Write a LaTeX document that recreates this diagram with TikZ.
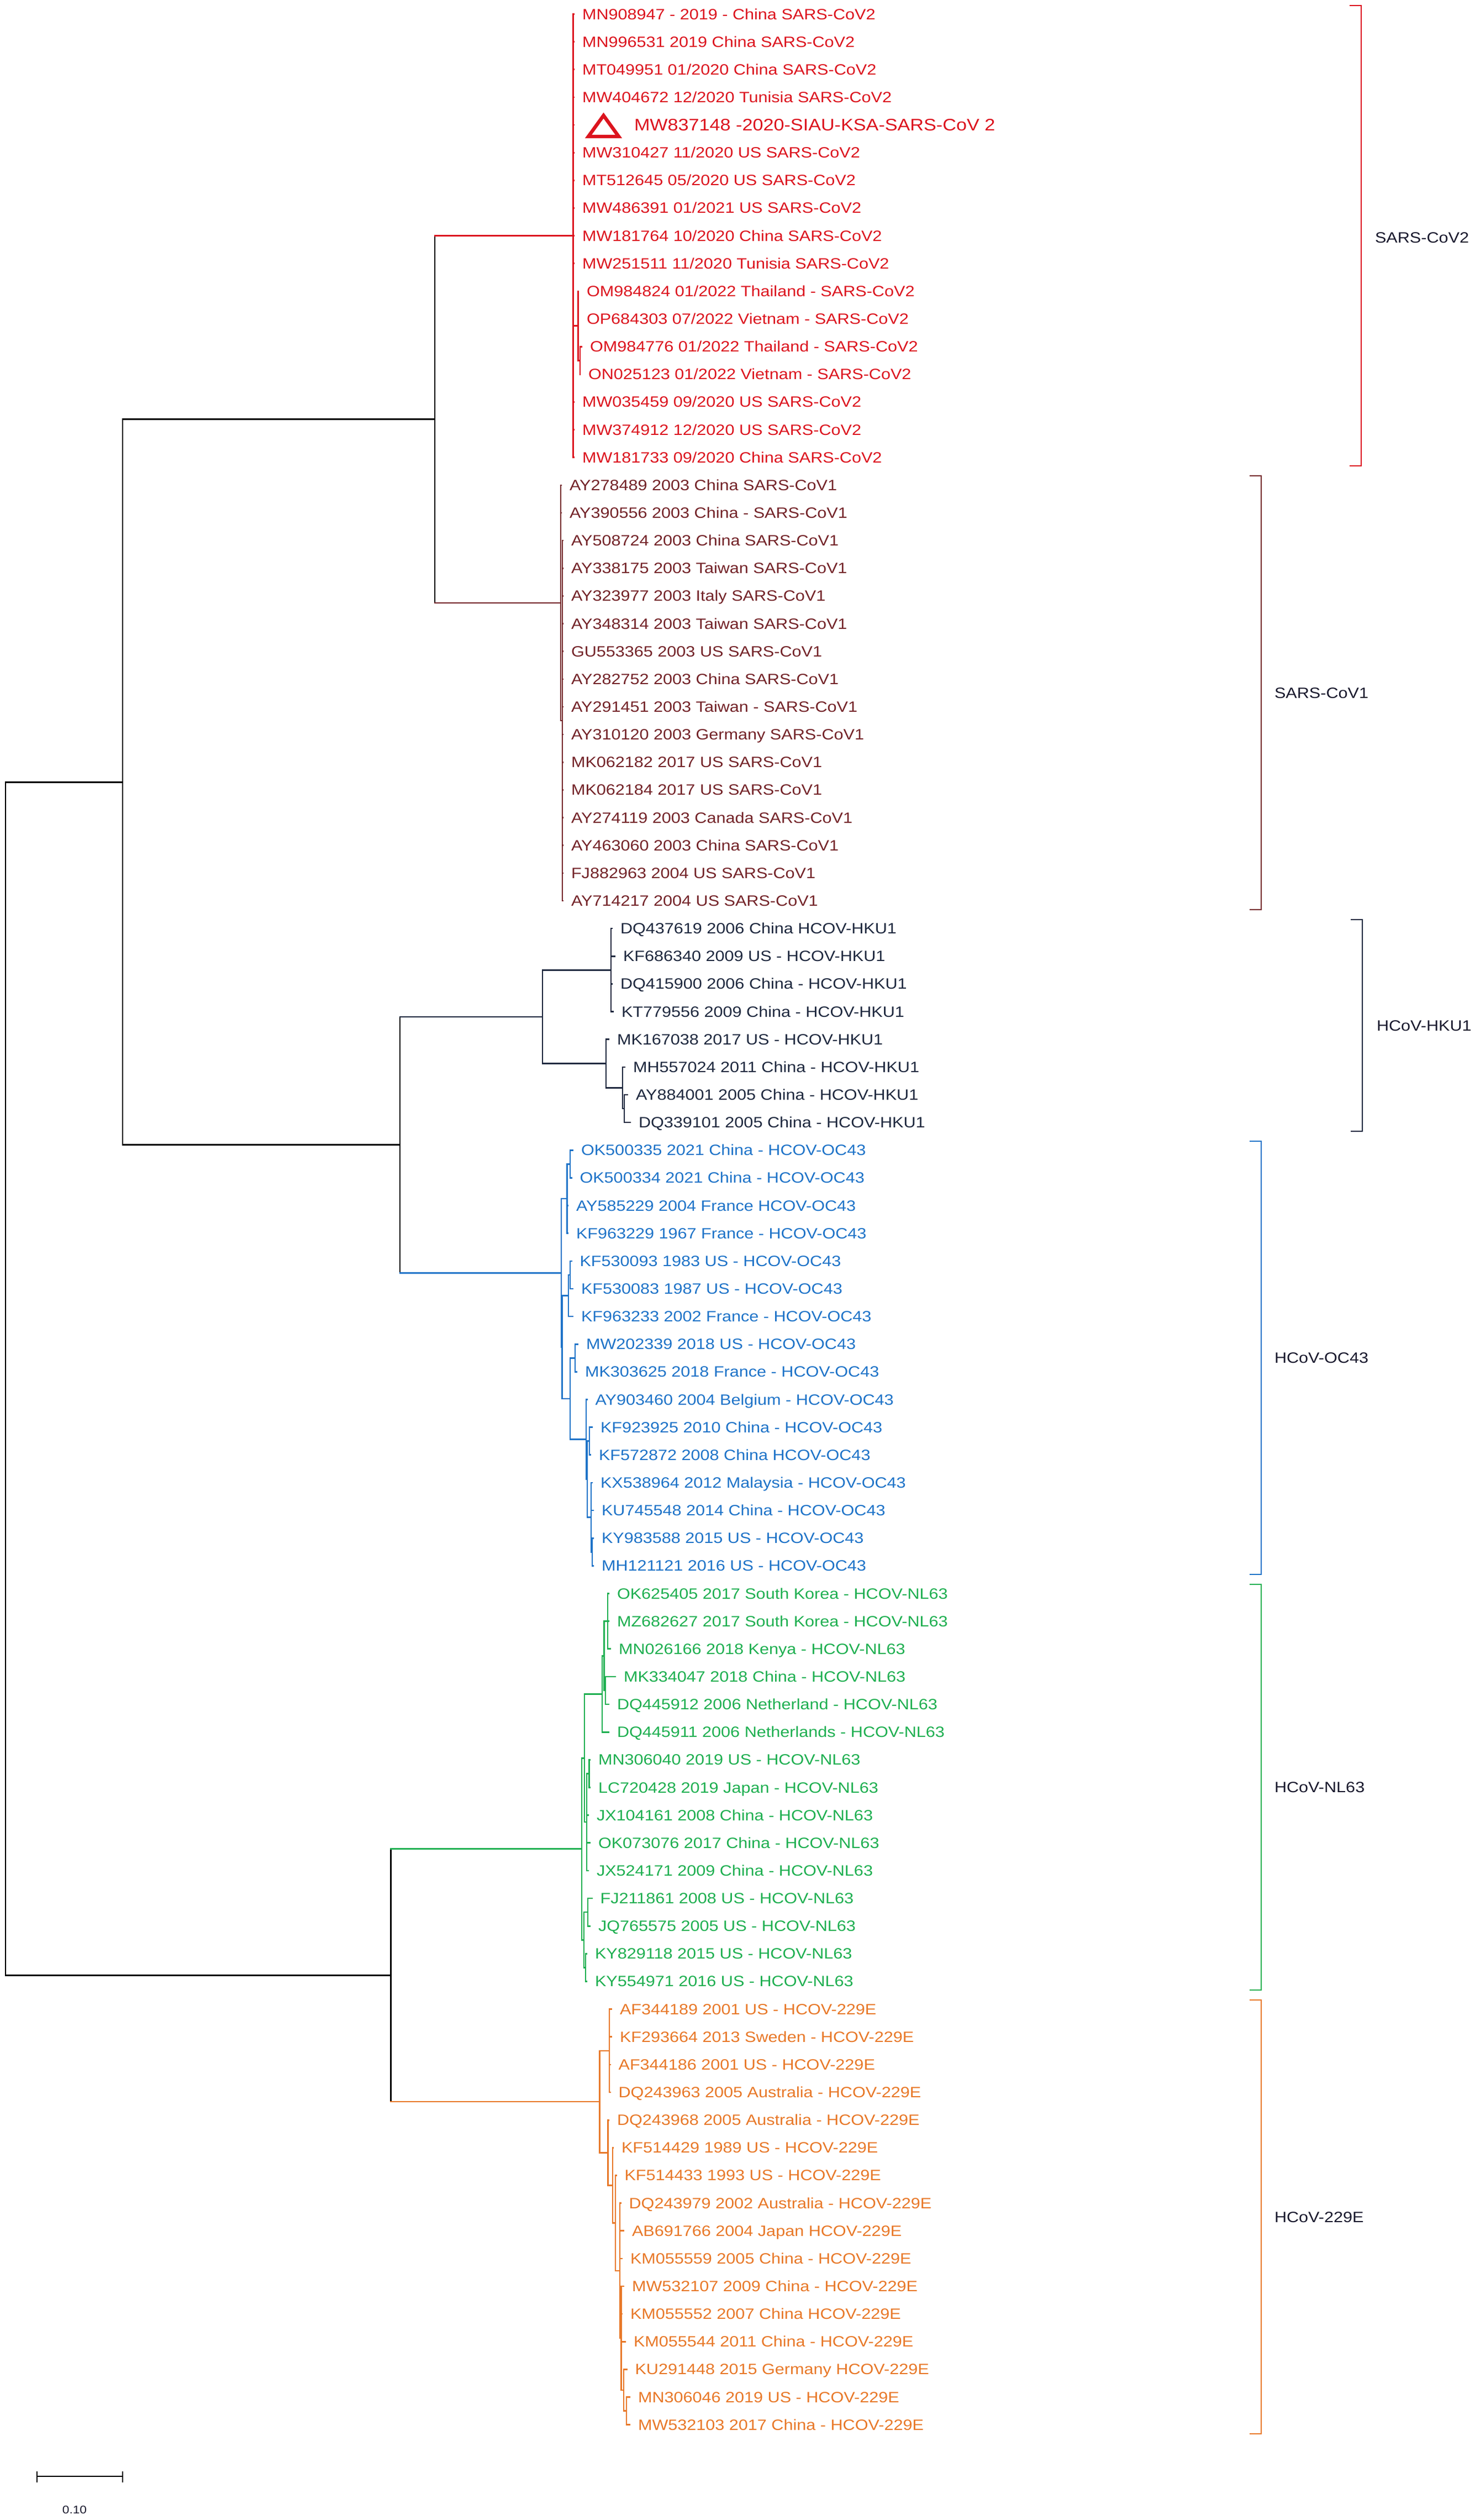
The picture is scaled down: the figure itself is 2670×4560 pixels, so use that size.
\documentclass[tikz,border=0pt]{standalone}
\usepackage{fontspec}
\newfontfamily\lblfont{Liberation Sans}[FakeStretch=1.13]
\definecolor{cTwo}{RGB}{220,20,30}
\definecolor{cOne}{RGB}{115,35,40}
\definecolor{cHk}{RGB}{30,40,62}
\definecolor{cOc}{RGB}{30,115,200}
\definecolor{cNl}{RGB}{30,175,80}
\definecolor{cEe}{RGB}{232,120,40}
\definecolor{cLab}{RGB}{25,25,45}
\newcommand\lfn[4]{%
  \pgfmathsetmacro\yc{25.5+50.14*(#1-1)}%
  \coordinate (t#1) at ({#2-15},\yc);%
  \node[lbl,text=#3,anchor=base west] (L#1) at (#2,{\yc+9.5}) {#4};}
\newcommand\tvert[4]{\draw[tree,#1] (#2 |- #3) -- (#2 |- #4);}
\newcommand\tedge[3]{\draw[tree,#1] (#2 |- #3) -- (#3);}
\begin{document}
\begin{tikzpicture}[x=0.01cm,y=-0.01cm,
  tree/.style={line width=0.75pt,line cap=rect},
  brk/.style={line width=0.8pt},
  lbl/.style={font=\lblfont\fontsize{7.7}{9}\selectfont,inner sep=0pt,outer sep=0pt},
  grp/.style={font=\lblfont\fontsize{7.7}{9}\selectfont,inner sep=0pt,outer sep=0pt,text=cLab,anchor=west}]
\fill[white] (0,0) rectangle (2670,4560);
\useasboundingbox (0,0) rectangle (2670,4560);

% ---------- leaves: SARS-CoV2 ----------
\lfn{1}{1054}{cTwo}{MN908947 - 2019 - China SARS-CoV2}
\lfn{2}{1054}{cTwo}{MN996531 2019 China SARS-CoV2}
\lfn{3}{1054}{cTwo}{MT049951 01/2020 China SARS-CoV2}
\lfn{4}{1054}{cTwo}{MW404672 12/2020 Tunisia SARS-CoV2}
\coordinate (t5) at (1039,226.06);
\node[lbl,text=cTwo,anchor=base west,font=\lblfont\fontsize{8.6}{10}\selectfont] (L5) at (1148,236.6) {MW837148 -2020-SIAU-KSA-SARS-CoV 2};
\draw[cTwo,line width=1.8pt,line join=miter] (1065,247) -- (1120,247) -- (1092.5,209) -- cycle;
\lfn{6}{1054}{cTwo}{MW310427 11/2020 US SARS-CoV2}
\lfn{7}{1054}{cTwo}{MT512645 05/2020 US SARS-CoV2}
\lfn{8}{1054}{cTwo}{MW486391 01/2021 US SARS-CoV2}
\lfn{9}{1054}{cTwo}{MW181764 10/2020 China SARS-CoV2}
\lfn{10}{1054}{cTwo}{MW251511 11/2020 Tunisia SARS-CoV2}
\lfn{11}{1062}{cTwo}{OM984824 01/2022 Thailand - SARS-CoV2}
\lfn{12}{1062}{cTwo}{OP684303 07/2022 Vietnam - SARS-CoV2}
\lfn{13}{1068}{cTwo}{OM984776 01/2022 Thailand - SARS-CoV2}
\lfn{14}{1065}{cTwo}{ON025123 01/2022 Vietnam - SARS-CoV2}
\lfn{15}{1054}{cTwo}{MW035459 09/2020 US SARS-CoV2}
\lfn{16}{1054}{cTwo}{MW374912 12/2020 US SARS-CoV2}
\lfn{17}{1054}{cTwo}{MW181733 09/2020 China SARS-CoV2}
% ---------- SARS-CoV1 ----------
\lfn{18}{1031}{cOne}{AY278489 2003 China SARS-CoV1}
\lfn{19}{1031}{cOne}{AY390556 2003 China - SARS-CoV1}
\lfn{20}{1034}{cOne}{AY508724 2003 China SARS-CoV1}
\lfn{21}{1034}{cOne}{AY338175 2003 Taiwan SARS-CoV1}
\lfn{22}{1034}{cOne}{AY323977 2003 Italy SARS-CoV1}
\lfn{23}{1034}{cOne}{AY348314 2003 Taiwan SARS-CoV1}
\lfn{24}{1034}{cOne}{GU553365 2003 US SARS-CoV1}
\lfn{25}{1034}{cOne}{AY282752 2003 China SARS-CoV1}
\lfn{26}{1034}{cOne}{AY291451 2003 Taiwan - SARS-CoV1}
\lfn{27}{1034}{cOne}{AY310120 2003 Germany SARS-CoV1}
\lfn{28}{1034}{cOne}{MK062182 2017 US SARS-CoV1}
\lfn{29}{1034}{cOne}{MK062184 2017 US SARS-CoV1}
\lfn{30}{1034}{cOne}{AY274119 2003 Canada SARS-CoV1}
\lfn{31}{1034}{cOne}{AY463060 2003 China SARS-CoV1}
\lfn{32}{1034}{cOne}{FJ882963 2004 US SARS-CoV1}
\lfn{33}{1034}{cOne}{AY714217 2004 US SARS-CoV1}
% ---------- HKU1 ----------
\lfn{34}{1123}{cHk}{DQ437619 2006 China HCOV-HKU1}
\lfn{35}{1128}{cHk}{KF686340 2009 US - HCOV-HKU1}
\lfn{36}{1123}{cHk}{DQ415900 2006 China - HCOV-HKU1}
\lfn{37}{1125}{cHk}{KT779556 2009 China - HCOV-HKU1}
\lfn{38}{1117}{cHk}{MK167038 2017 US - HCOV-HKU1}
\lfn{39}{1146}{cHk}{MH557024 2011 China - HCOV-HKU1}
\lfn{40}{1151}{cHk}{AY884001 2005 China - HCOV-HKU1}
\lfn{41}{1156}{cHk}{DQ339101 2005 China - HCOV-HKU1}
% ---------- OC43 ----------
\lfn{42}{1052}{cOc}{OK500335 2021 China - HCOV-OC43}
\lfn{43}{1049.5}{cOc}{OK500334 2021 China - HCOV-OC43}
\lfn{44}{1043}{cOc}{AY585229 2004 France HCOV-OC43}
\lfn{45}{1043}{cOc}{KF963229 1967 France - HCOV-OC43}
\lfn{46}{1049.5}{cOc}{KF530093 1983 US - HCOV-OC43}
\lfn{47}{1052}{cOc}{KF530083 1987 US - HCOV-OC43}
\lfn{48}{1052}{cOc}{KF963233 2002 France - HCOV-OC43}
\lfn{49}{1061}{cOc}{MW202339 2018 US - HCOV-OC43}
\lfn{50}{1059}{cOc}{MK303625 2018 France - HCOV-OC43}
\lfn{51}{1077.5}{cOc}{AY903460 2004 Belgium - HCOV-OC43}
\lfn{52}{1087}{cOc}{KF923925 2010 China - HCOV-OC43}
\lfn{53}{1084}{cOc}{KF572872 2008 China HCOV-OC43}
\lfn{54}{1087}{cOc}{KX538964 2012 Malaysia - HCOV-OC43}
\lfn{55}{1089}{cOc}{KU745548 2014 China - HCOV-OC43}
\lfn{56}{1089}{cOc}{KY983588 2015 US - HCOV-OC43}
\lfn{57}{1089}{cOc}{MH121121 2016 US - HCOV-OC43}
% ---------- NL63 ----------
\lfn{58}{1117}{cNl}{OK625405 2017 South Korea - HCOV-NL63}
\lfn{59}{1117}{cNl}{MZ682627 2017 South Korea - HCOV-NL63}
\lfn{60}{1120}{cNl}{MN026166 2018 Kenya - HCOV-NL63}
\lfn{61}{1129}{cNl}{MK334047 2018 China - HCOV-NL63}
\lfn{62}{1117}{cNl}{DQ445912 2006 Netherland - HCOV-NL63}
\lfn{63}{1117}{cNl}{DQ445911 2006 Netherlands - HCOV-NL63}
\lfn{64}{1083}{cNl}{MN306040 2019 US - HCOV-NL63}
\lfn{65}{1083}{cNl}{LC720428 2019 Japan - HCOV-NL63}
\lfn{66}{1080}{cNl}{JX104161 2008 China - HCOV-NL63}
\lfn{67}{1083}{cNl}{OK073076 2017 China - HCOV-NL63}
\lfn{68}{1080}{cNl}{JX524171 2009 China - HCOV-NL63}
\lfn{69}{1086.6}{cNl}{FJ211861 2008 US - HCOV-NL63}
\lfn{70}{1083}{cNl}{JQ765575 2005 US - HCOV-NL63}
\lfn{71}{1077}{cNl}{KY829118 2015 US - HCOV-NL63}
\lfn{72}{1077}{cNl}{KY554971 2016 US - HCOV-NL63}
% ---------- 229E ----------
\lfn{73}{1122}{cEe}{AF344189 2001 US - HCOV-229E}
\lfn{74}{1122}{cEe}{KF293664 2013 Sweden - HCOV-229E}
\lfn{75}{1119.6}{cEe}{AF344186 2001 US - HCOV-229E}
\lfn{76}{1119.6}{cEe}{DQ243963 2005 Australia - HCOV-229E}
\lfn{77}{1117}{cEe}{DQ243968 2005 Australia - HCOV-229E}
\lfn{78}{1125}{cEe}{KF514429 1989 US - HCOV-229E}
\lfn{79}{1130.5}{cEe}{KF514433 1993 US - HCOV-229E}
\lfn{80}{1138.6}{cEe}{DQ243979 2002 Australia - HCOV-229E}
\lfn{81}{1144}{cEe}{AB691766 2004 Japan HCOV-229E}
\lfn{82}{1141}{cEe}{KM055559 2005 China - HCOV-229E}
\lfn{83}{1144}{cEe}{MW532107 2009 China - HCOV-229E}
\lfn{84}{1141}{cEe}{KM055552 2007 China HCOV-229E}
\lfn{85}{1147}{cEe}{KM055544 2011 China - HCOV-229E}
\lfn{86}{1149.5}{cEe}{KU291448 2015 Germany HCOV-229E}
\lfn{87}{1155}{cEe}{MN306046 2019 US - HCOV-229E}
\lfn{88}{1155}{cEe}{MW532103 2017 China - HCOV-229E}

% ---------- internal nodes ----------
\coordinate (C2t) at (1050,652.25);
\coordinate (C2s) at (1046.5,589.6);
\coordinate (C2) at (1037.5,426.6);
\coordinate (C1s) at (1018,1304.07);
\coordinate (C1) at (1015,1090.98);
\coordinate (S) at (787,758.8);
\coordinate (Hka) at (1106,1755.33);
\coordinate (Hkd) at (1130,2006.03);
\coordinate (Hkc) at (1127,1968.4);
\coordinate (Hkb) at (1097,1924.5);
\coordinate (Hk) at (982,1839.9);
\coordinate (Os) at (1032,2106.31);
\coordinate (Ot) at (1026.5,2168.99);
\coordinate (Oms) at (1032,2306.87);
\coordinate (Om) at (1029,2344.48);
\coordinate (Obm) at (1041,2457.29);
\coordinate (Ow1) at (1067,2607.71);
\coordinate (Ov1) at (1072,2808.27);
\coordinate (Ov) at (1070,2745.6);
\coordinate (Ow) at (1063,2676.66);
\coordinate (Oz) at (1061,2604.58);
\coordinate (Ob) at (1032,2530.94);
\coordinate (Oy) at (1017.5,2437.71);
\coordinate (Ox) at (1016,2303.35);
\coordinate (HO) at (724,2071.6);
\coordinate (A) at (222,1415.2);
\coordinate (Nr) at (1100,2933.62);
\coordinate (Nq2) at (1096,3058.97);
\coordinate (Nq) at (1093.5,2996.3);
\coordinate (Np) at (1090,3065.24);
\coordinate (Nbs) at (1066.5,3209.39);
\coordinate (Nb) at (1062,3297.1);
\coordinate (Na) at (1058,3181.17);
\coordinate (Nca) at (1064,3460.09);
\coordinate (Ncb) at (1060,3560.37);
\coordinate (Nc) at (1057,3510.23);
\coordinate (N) at (1053,3345.7);
\coordinate (E1) at (1103,3710.79);
\coordinate (E8) at (1134,4362.61);
\coordinate (E7) at (1129,4325.0);
\coordinate (E6) at (1124.5,4230.99);
\coordinate (E5) at (1122,4108.78);
\coordinate (E4) at (1114,4022.6);
\coordinate (E3) at (1109,3954.44);
\coordinate (E2) at (1100.7,3895.29);
\coordinate (E) at (1085.5,3803.04);
\coordinate (NE) at (707.5,3574.37);
\coordinate (R) at (10,2494.8);

% ---------- branches ----------
% SARS-CoV2
\tvert{cTwo}{C2t}{t13}{t14}
\foreach \i in {13,14} {\tedge{cTwo}{C2t}{t\i}}
\tvert{cTwo}{C2s}{t11}{C2t}
\foreach \i in {11,12} {\tedge{cTwo}{C2s}{t\i}}
\tedge{cTwo}{C2s}{C2t}
\tvert{cTwo}{C2}{t1}{t17}
\foreach \i in {1,2,3,4,5,6,7,8,9,10,15,16,17} {\tedge{cTwo}{C2}{t\i}}
\tedge{cTwo}{C2}{C2s}
% SARS-CoV1
\tvert{cOne}{C1s}{t20}{t33}
\foreach \i in {20,...,33} {\tedge{cOne}{C1s}{t\i}}
\tvert{cOne}{C1}{t18}{C1s}
\foreach \i in {18,19} {\tedge{cOne}{C1}{t\i}}
\tedge{cOne}{C1}{C1s}
% SARS
\tvert{black}{S}{C2}{C1}
\tedge{cTwo}{S}{C2}
\tedge{cOne}{S}{C1}
% HKU1
\tvert{cHk}{Hka}{t34}{t37}
\foreach \i in {34,...,37} {\tedge{cHk}{Hka}{t\i}}
\tvert{cHk}{Hkd}{t40}{t41}
\foreach \i in {40,41} {\tedge{cHk}{Hkd}{t\i}}
\tvert{cHk}{Hkc}{t39}{Hkd}
\tedge{cHk}{Hkc}{t39}
\tedge{cHk}{Hkc}{Hkd}
\tvert{cHk}{Hkb}{t38}{Hkc}
\tedge{cHk}{Hkb}{t38}
\tedge{cHk}{Hkb}{Hkc}
\tvert{cHk}{Hk}{Hka}{Hkb}
\tedge{cHk}{Hk}{Hka}
\tedge{cHk}{Hk}{Hkb}
% OC43
\tvert{cOc}{Os}{t42}{t43}
\foreach \i in {42,43} {\tedge{cOc}{Os}{t\i}}
\tvert{cOc}{Ot}{Os}{t45}
\tedge{cOc}{Ot}{Os}
\foreach \i in {44,45} {\tedge{cOc}{Ot}{t\i}}
\tvert{cOc}{Oms}{t46}{t47}
\foreach \i in {46,47} {\tedge{cOc}{Oms}{t\i}}
\tvert{cOc}{Om}{Oms}{t48}
\tedge{cOc}{Om}{Oms}
\tedge{cOc}{Om}{t48}
\tvert{cOc}{Obm}{t49}{t50}
\foreach \i in {49,50} {\tedge{cOc}{Obm}{t\i}}
\tvert{cOc}{Ow1}{t52}{t53}
\foreach \i in {52,53} {\tedge{cOc}{Ow1}{t\i}}
\tvert{cOc}{Ov1}{t56}{t57}
\foreach \i in {56,57} {\tedge{cOc}{Ov1}{t\i}}
\tvert{cOc}{Ov}{t54}{Ov1}
\foreach \i in {54,55} {\tedge{cOc}{Ov}{t\i}}
\tedge{cOc}{Ov}{Ov1}
\tvert{cOc}{Ow}{Ow1}{Ov}
\tedge{cOc}{Ow}{Ow1}
\tedge{cOc}{Ow}{Ov}
\tvert{cOc}{Oz}{t51}{Ow}
\tedge{cOc}{Oz}{t51}
\tedge{cOc}{Oz}{Ow}
\tvert{cOc}{Ob}{Obm}{Oz}
\tedge{cOc}{Ob}{Obm}
\tedge{cOc}{Ob}{Oz}
\tvert{cOc}{Oy}{Om}{Ob}
\tedge{cOc}{Oy}{Om}
\tedge{cOc}{Oy}{Ob}
\tvert{cOc}{Ox}{Ot}{Oy}
\tedge{cOc}{Ox}{Ot}
\tedge{cOc}{Ox}{Oy}
% HKU1 + OC43
\tvert{black}{HO}{Hk}{Ox}
\tedge{cHk}{HO}{Hk}
\tedge{cOc}{HO}{Ox}
% A
\tvert{black}{A}{S}{HO}
\tedge{black}{A}{S}
\tedge{black}{A}{HO}
% NL63
\tvert{cNl}{Nr}{t58}{t60}
\foreach \i in {58,59,60} {\tedge{cNl}{Nr}{t\i}}
\tvert{cNl}{Nq2}{t61}{t62}
\foreach \i in {61,62} {\tedge{cNl}{Nq2}{t\i}}
\tvert{cNl}{Nq}{Nr}{Nq2}
\tedge{cNl}{Nq}{Nr}
\tedge{cNl}{Nq}{Nq2}
\tvert{cNl}{Np}{Nq}{t63}
\tedge{cNl}{Np}{Nq}
\tedge{cNl}{Np}{t63}
\tvert{cNl}{Nbs}{t64}{t65}
\foreach \i in {64,65} {\tedge{cNl}{Nbs}{t\i}}
\tvert{cNl}{Nb}{Nbs}{t68}
\tedge{cNl}{Nb}{Nbs}
\foreach \i in {66,67,68} {\tedge{cNl}{Nb}{t\i}}
\tvert{cNl}{Na}{Np}{Nb}
\tedge{cNl}{Na}{Np}
\tedge{cNl}{Na}{Nb}
\tvert{cNl}{Nca}{t69}{t70}
\foreach \i in {69,70} {\tedge{cNl}{Nca}{t\i}}
\tvert{cNl}{Ncb}{t71}{t72}
\foreach \i in {71,72} {\tedge{cNl}{Ncb}{t\i}}
\tvert{cNl}{Nc}{Nca}{Ncb}
\tedge{cNl}{Nc}{Nca}
\tedge{cNl}{Nc}{Ncb}
\tvert{cNl}{N}{Na}{Nc}
\tedge{cNl}{N}{Na}
\tedge{cNl}{N}{Nc}
% 229E
\tvert{cEe}{E1}{t73}{t76}
\foreach \i in {73,...,76} {\tedge{cEe}{E1}{t\i}}
\tvert{cEe}{E8}{t87}{t88}
\foreach \i in {87,88} {\tedge{cEe}{E8}{t\i}}
\tvert{cEe}{E7}{t86}{E8}
\tedge{cEe}{E7}{t86}
\tedge{cEe}{E7}{E8}
\tvert{cEe}{E6}{t83}{E7}
\foreach \i in {83,84,85} {\tedge{cEe}{E6}{t\i}}
\tedge{cEe}{E6}{E7}
\tvert{cEe}{E5}{t80}{E6}
\foreach \i in {80,81,82} {\tedge{cEe}{E5}{t\i}}
\tedge{cEe}{E5}{E6}
\tvert{cEe}{E4}{t79}{E5}
\tedge{cEe}{E4}{t79}
\tedge{cEe}{E4}{E5}
\tvert{cEe}{E3}{t78}{E4}
\tedge{cEe}{E3}{t78}
\tedge{cEe}{E3}{E4}
\tvert{cEe}{E2}{t77}{E3}
\tedge{cEe}{E2}{t77}
\tedge{cEe}{E2}{E3}
\tvert{cEe}{E}{E1}{E2}
\tedge{cEe}{E}{E1}
\tedge{cEe}{E}{E2}
% NL63 + 229E
\tvert{black}{NE}{N}{E}
\tedge{cNl}{NE}{N}
\tedge{cEe}{NE}{E}
% root
\tvert{black}{R}{A}{NE}
\tedge{black}{R}{A}
\tedge{black}{R}{NE}

% ---------- group brackets ----------
\draw[brk,cTwo] (2443,10) -- (2464,10) -- (2464,843) -- (2443,843);
\node[grp] (G1) at (2489,430) {SARS-CoV2};
\draw[brk,cOne] (2262,861) -- (2283,861) -- (2283,1646) -- (2262,1646);
\node[grp] (G2) at (2307,1254) {SARS-CoV1};
\draw[brk,cHk] (2445,1664) -- (2466,1664) -- (2466,2047) -- (2445,2047);
\node[grp] (G3) at (2492,1856) {HCoV-HKU1};
\draw[brk,cOc] (2262,2065) -- (2283,2065) -- (2283,2849) -- (2262,2849);
\node[grp] (G4) at (2307,2457) {HCoV-OC43};
\draw[brk,cNl] (2262,2867) -- (2283,2867) -- (2283,3601) -- (2262,3601);
\node[grp] (G5) at (2307,3234) {HCoV-NL63};
\draw[brk,cEe] (2262,3619) -- (2283,3619) -- (2283,4404) -- (2262,4404);
\node[grp] (G6) at (2307,4012) {HCoV-229E};

% ---------- scale bar ----------
\coordinate (sb1) at (67,4481);
\coordinate (sb2) at (222,4481);
\draw[line width=0.7pt,black] (sb1) -- (sb2);
\draw[line width=0.7pt,black] (67,4472) -- (67,4492);
\draw[line width=0.7pt,black] (222,4472) -- (222,4492);
\node[inner sep=0pt,text=cLab,font=\lblfont\fontsize{5.7}{7}\selectfont] (sbl) at (135,4542) {0.10};
\end{tikzpicture}
\end{document}
